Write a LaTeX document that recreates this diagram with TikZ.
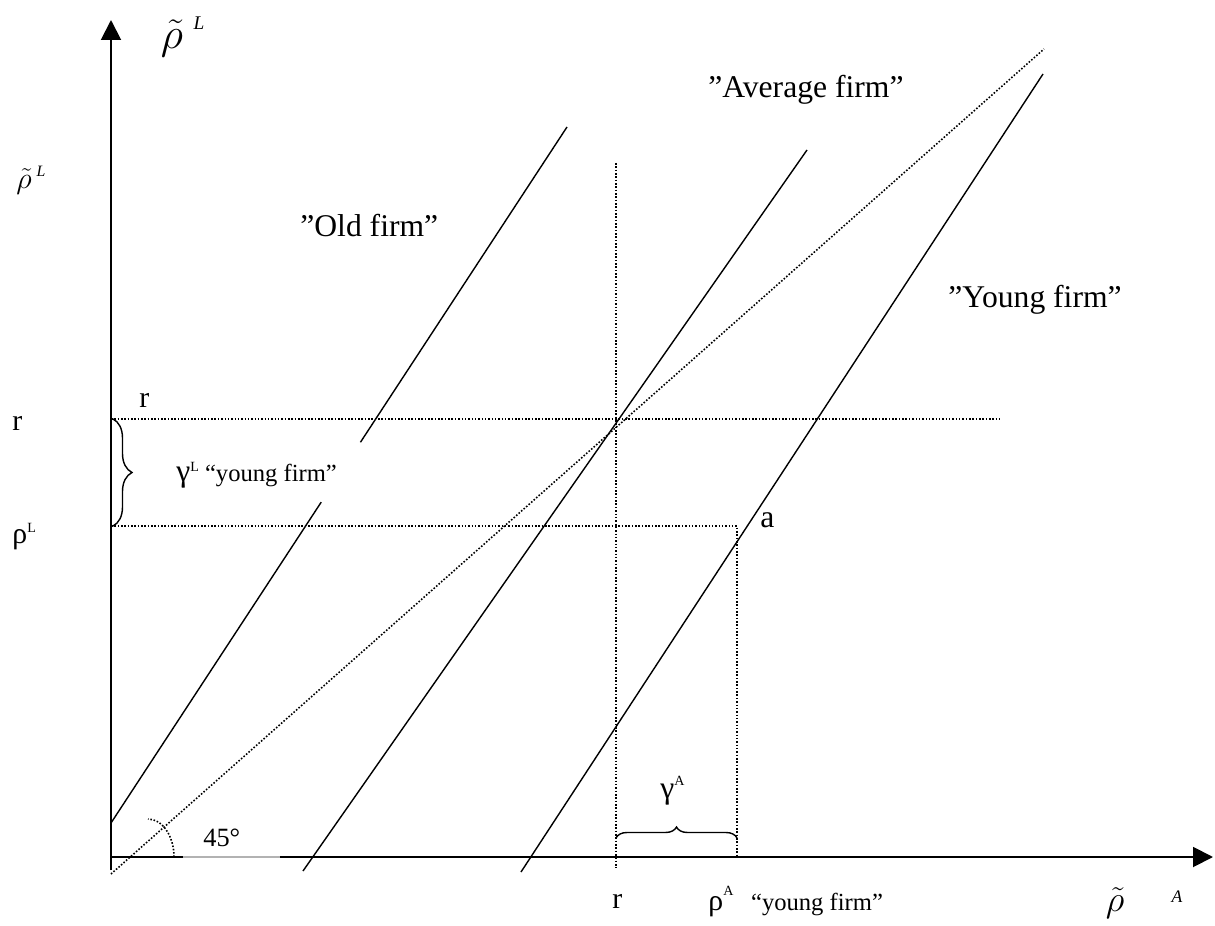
\documentclass[tikz,border=0pt]{standalone}
\usepackage{fontspec}
\setmainfont{Liberation Serif}
\usepackage{tikz}
\usetikzlibrary{arrows.meta, positioning, calc, decorations.pathreplacing}

\newcommand{\raisedsup}[2]{\raisebox{#1}{\fontsize{8}{8}\selectfont #2}}

\tikzset{
  axisline/.style={line width=1.1pt, -{Triangle[length=0.4cm, width=0.4cm]}},
  firmline/.style={line width=0.8pt},
  guideline/.style={line width=0.9pt, dash pattern=on 0.9pt off 1pt},
  bracestyle/.style={line width=0.8pt, decorate},
  firmlabel/.style={font=\fontsize{18}{20}\selectfont, inner sep=0pt, anchor=base west},
  ticklabel/.style={font=\fontsize{17}{19}\selectfont, inner sep=0pt, anchor=base west},
  notelabel/.style={font=\fontsize{14}{16}\selectfont, inner sep=0pt, anchor=base west},
  rholabel/.style={inner sep=0pt},
  rhosup/.style={font=\fontsize{10}{10}\selectfont\itshape, inner sep=0pt}
}

\begin{document}
\begin{tikzpicture}[x=0.02cm, y=-0.02cm]
\useasboundingbox (0,0) rectangle (1215,926);

% axes
\coordinate (o) at (111,857);
\coordinate (ybot) at (111,870);
\coordinate (ytop) at (111,20);
\coordinate (gapl) at (183,857);
\coordinate (gapr) at (280,857);
\coordinate (xend) at (1213,857);
\draw[axisline] (ybot) -- (ytop);
\draw[line width=1.1pt] (o) -- (gapl);
\draw[gray!60, line width=0.6pt] (gapl) -- (gapr);
\draw[axisline] (gapr) -- (xend);

% guide lines
\coordinate (rleft) at (111,419);
\coordinate (rright) at (1000,419);
\coordinate (rtop) at (616,163);
\coordinate (rbot) at (616,868);
\coordinate (pleft) at (111,526);
\coordinate (pa) at (737,526);
\coordinate (pbot) at (737,857);
\draw[guideline] (rleft) -- (rright);
\draw[guideline] (rtop) -- (rbot);
\draw[guideline] (pleft) -- (pa) -- (pbot);

% 45 degree line and its arc
\coordinate (d0) at (111,874);
\coordinate (d1) at (1044,49);
\draw[guideline] (d0) -- (d1);
\draw[guideline] (174,857) arc[start angle=0, end angle=90, x radius=0.52cm, y radius=0.76cm];

% firm lines
\coordinate (old0) at (111,823);
\coordinate (old1) at (567,127);
\coordinate (avg0) at (303,871);
\coordinate (avg1) at (807,150);
\coordinate (yng0) at (521,872);
\coordinate (yng1) at (1043,74);
\draw[firmline] (old0) -- ($(old0)!0.461!(old1)$);
\draw[firmline] ($(old0)!0.547!(old1)$) -- (old1);
\draw[firmline] (avg0) -- (avg1);
\draw[firmline] (yng0) -- (yng1);

% braces
\draw[bracestyle, decoration={brace, amplitude=0.38cm}] (113,419) -- (113,526);
\draw[bracestyle, decoration={brace, amplitude=0.22cm}] (616,838) -- (737,838);

% axis labels
\node[rholabel, font=\fontsize{28}{30}\selectfont] (rhoLtop) at (172,38) {$\tilde{\rho}$};
\node[rhosup, font=\fontsize{11}{11}\selectfont\itshape] (rhoLtopsup) at (199,23) {L};
\node[rholabel, font=\fontsize{18}{20}\selectfont] (rhoLleft) at (24,181) {$\tilde{\rho}$};
\node[rhosup, font=\fontsize{9}{9}\selectfont\itshape] (rhoLleftsup) at (41,171) {L};
\node[rholabel, font=\fontsize{21}{23}\selectfont] (rhoAright) at (1115,903) {$\tilde{\rho}$};
\node[rhosup] (rhoArightsup) at (1177,897) {A};

% tick labels
\node[ticklabel] (rL) at (12,430) {r};
\node[ticklabel] (rtopL) at (139,407) {r};
\node[ticklabel] (rhoL) at (12,543) {ρ\raisedsup{6pt}{L}};
\node[ticklabel] (rbotL) at (612,908) {r};
\node[ticklabel] (rhoA) at (708,910) {ρ\raisedsup{8pt}{A}};
\node[notelabel, right=0.34cm of rhoA.base east, anchor=base west] (rhoAnote) {“young firm”};

% gaps
\node[notelabel] (gammaL) at (176,481) {{\fontsize{18}{20}\selectfont γ}\raisedsup{5.5pt}{L} “young firm”};
\node[ticklabel, font=\fontsize{18}{20}\selectfont] (gammaA) at (660,798) {γ\raisedsup{7pt}{A}};

% curve labels
\node[firmlabel] (oldlab) at (300,236) {”Old firm”};
\node[firmlabel] (avglab) at (708,98) {”Average firm”};
\node[firmlabel] (ynglab) at (948,307) {”Young firm”};
\node[firmlabel] (alab) at (760,527) {a};
\node[notelabel, font=\fontsize{15}{17}\selectfont] (anglab) at (203,846) {45°};
\end{tikzpicture}
\end{document}
